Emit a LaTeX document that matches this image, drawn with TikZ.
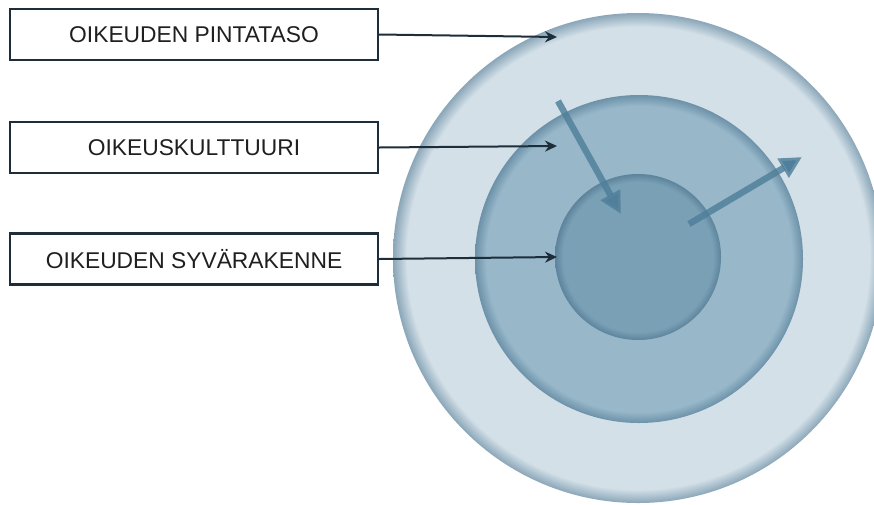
\documentclass[tikz,border=0pt]{standalone}
\usepackage{fontspec}
\setmainfont{Liberation Sans}
\usetikzlibrary{arrows.meta}

% layer colours
\definecolor{outerfill}{HTML}{D3E0E8}
\definecolor{outerrim}{HTML}{8AA6B8}
\definecolor{midfill}{HTML}{98B8CA}
\definecolor{midrim}{HTML}{6C91A8}
\definecolor{innerfill}{HTML}{7AA0B6}
\definecolor{innerrim}{HTML}{5D849C}
\definecolor{boxline}{HTML}{1E2D3A}
\definecolor{flowblue}{HTML}{4F7F9A}

% flat discs with a darker soft rim
\pgfdeclareradialshading{outerdisc}{\pgfpoint{0bp}{0bp}}{%
  color(0bp)=(outerfill); color(23.6bp)=(outerfill); color(25bp)=(outerrim); color(50bp)=(outerrim)}
\pgfdeclareradialshading{middisc}{\pgfpoint{0bp}{0bp}}{%
  color(0bp)=(midfill); color(23.3bp)=(midfill); color(25bp)=(midrim); color(50bp)=(midrim)}
\pgfdeclareradialshading{innerdisc}{\pgfpoint{0bp}{0bp}}{%
  color(0bp)=(innerfill); color(22.6bp)=(innerfill); color(25bp)=(innerrim); color(50bp)=(innerrim)}

\tikzset{
  label box/.style={draw=boxline, line width=2.2pt, fill=white,
    minimum width=368pt, minimum height=51pt, inner sep=0pt,
    font=\fontsize{22.8}{27}\selectfont, text=black!88},
  pointer/.style={draw=boxline, line width=2pt,
    -{Stealth[length=12pt,width=11pt]}},
  flow/.style={draw=flowblue, draw opacity=0.82, line width=6.5pt,
    -{Triangle[length=22pt,width=21pt]}},
}

\begin{document}
\begin{tikzpicture}[x=1pt,y=-1pt]
  \useasboundingbox (0,0) rectangle (874,504);
  \fill[white] (0,0) rectangle (874,504);

  % concentric layers
  \coordinate (ctr) at (638,258);
  \shade[shading=outerdisc] (ctr) circle (245);
  \shade[shading=middisc] (639,259) circle (164);
  \shade[shading=innerdisc] (638,257) circle (83);

  % movement between surface and depth
  \coordinate (inA) at (558,101);
  \coordinate (inB) at (621,214);
  \coordinate (outA) at (689,224);
  \coordinate (outB) at (802,157);
  \draw[flow] (inA) -- (inB);
  \draw[flow] (outA) -- (outB);

  % labels
  \node[label box] (b1) at (194,34.5) {OIKEUDEN PINTATASO};
  \node[label box] (b2) at (194,147.5) {OIKEUSKULTTUURI};
  \node[label box] (b3) at (194,259) {OIKEUDEN SYVÄRAKENNE};

  \coordinate (p1) at (557,37);
  \coordinate (p2) at (557,146);
  \coordinate (p3) at (557,257);
  \draw[pointer] (b1.east) -- (p1);
  \draw[pointer] (b2.east) -- (p2);
  \draw[pointer] (b3.east) -- (p3);
\end{tikzpicture}
\end{document}
